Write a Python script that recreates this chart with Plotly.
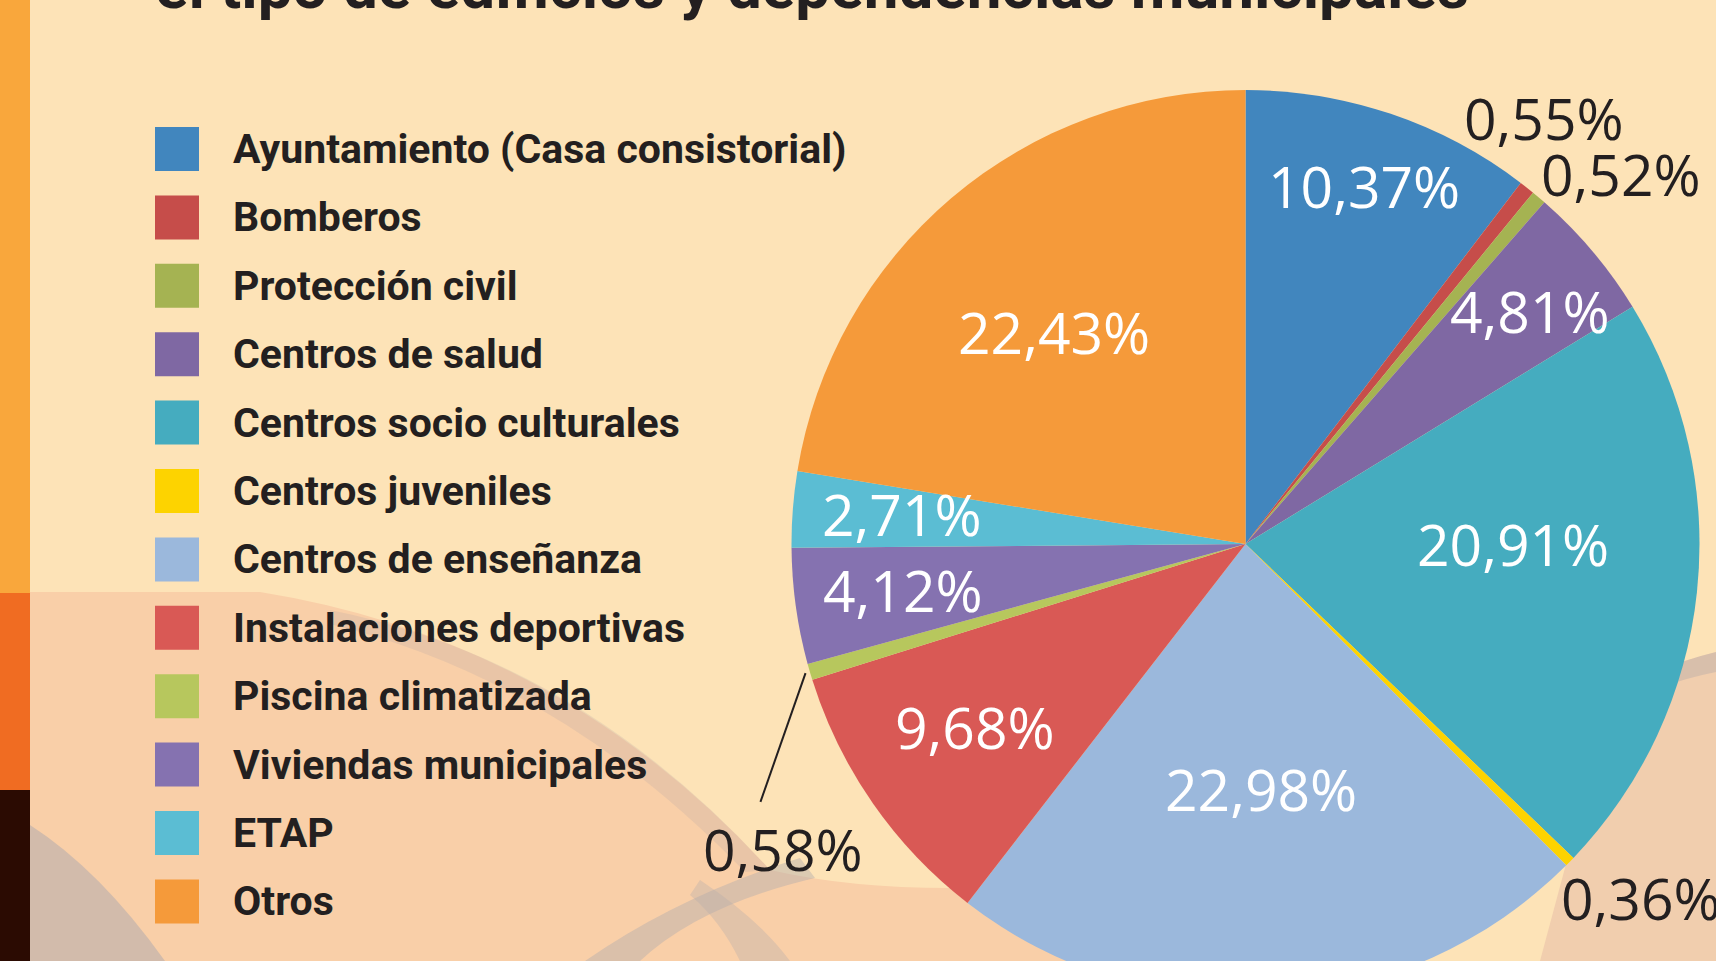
import math
import plotly.graph_objects as go

# ---------------- data ----------------
categories = [
    "Ayuntamiento (Casa consistorial)",
    "Bomberos",
    "Protección civil",
    "Centros de salud",
    "Centros socio culturales",
    "Centros juveniles",
    "Centros de enseñanza",
    "Instalaciones deportivas",
    "Piscina climatizada",
    "Viviendas municipales",
    "ETAP",
    "Otros",
]
shares = [10.37, 0.55, 0.52, 4.81, 20.91, 0.36, 22.98, 9.68, 0.58, 4.12, 2.71, 22.43]
title_text = "el tipo de edificios y dependencias municipales"

# ---------------- styles ----------------
colors = ["#4186BE", "#C64D4A", "#A5B352", "#7F68A3", "#45ACBF", "#FDD300",
          "#9BB8DC", "#D95955", "#B7C75D", "#8572B0", "#5BBDD3", "#F59A3A"]
# label placement (radius as fraction of pie radius, angular shift in degrees)
label_radius = [0.83, 1.145, 1.16, 0.81, 0.59, 1.17, 0.54, 0.72, 1.22, 0.76, 0.76, 0.63]
label_shift = [-0.4, -3.3, 5.2, 0.9, -6.1, -2.6, 0.0, 0.8, -17.0, 0.3, 0.6, -1.7]
label_inside = [True, False, False, True, True, False, True, True, False, True, True, True]
leader_for = [8]  # slices that get a leader line

W, H = 1716, 1000
CX, CY, R = 1245.5, 544.0, 454.0
BG = "#FDE3B7"
DARK = "#231F20"
LEGEND_FONT = "Roboto, Liberation Sans, sans-serif"
LABEL_FONT = "Open Sans, Noto Sans, sans-serif"


def px2paper(px, py):
    return px / W, 1 - py / H


def pxpath(segments):
    out = []
    for cmd, pts in segments:
        s = cmd
        for (x, y) in pts:
            a, b = px2paper(x, y)
            s += f" {a:.5f},{b:.5f}"
        out.append(s)
    return " ".join(out) + " Z"


def fmt(v):
    return f"{v:.2f}".replace(".", ",") + "%"


fig = go.Figure()
x0, y0 = px2paper(CX - R, CY + R)
x1, y1 = px2paper(CX + R, CY - R)
fig.add_trace(go.Pie(
    labels=categories,
    values=shares,
    sort=False,
    direction="clockwise",
    rotation=0,
    marker=dict(colors=colors, line=dict(width=0)),
    textinfo="none",
    hoverinfo="label+percent",
    showlegend=False,
    domain=dict(x=[x0, x1], y=[y0, y1]),
))

shapes = []
annotations = []


def bg_shape(segments, color, opacity=1.0):
    shapes.append(dict(type="path", xref="paper", yref="paper", layer="below",
                       path=pxpath(segments), fillcolor=color,
                       line=dict(width=0), opacity=opacity))


# ---------- background decorations ----------
# pink wave on the lower left
bg_shape([("M", [(30, 592)]), ("L", [(260, 592)]), ("Q", [(560, 640), (770, 870)]),
          ("Q", [(900, 900), (1100, 880)]), ("L", [(1100, 961)]), ("L", [(30, 961)])],
         "#F9CFA8")
# soft grey shading along its edge
bg_shape([("M", [(330, 610)]), ("Q", [(580, 660), (770, 870)]), ("L", [(745, 872)]),
          ("Q", [(560, 680), (330, 624)])], "#A9A2A6", 0.2)
# grey band lower left corner
bg_shape([("M", [(30, 825)]), ("Q", [(100, 870), (165, 961)]), ("L", [(30, 961)])],
         "#ACA8AE", 0.5)
# grey bands bottom middle
bg_shape([("M", [(585, 961)]), ("Q", [(680, 895), (800, 858)]), ("L", [(815, 878)]),
          ("Q", [(700, 905), (640, 961)])], "#B4ACAC", 0.45)
bg_shape([("M", [(700, 880)]), ("Q", [(760, 920), (790, 961)]), ("L", [(740, 961)]),
          ("Q", [(720, 920), (690, 895)])], "#B4ACAC", 0.35)
# right-hand wave
bg_shape([("M", [(1716, 652)]), ("Q", [(1650, 668), (1610, 700)]), ("L", [(1540, 961)]),
          ("L", [(1716, 961)])], "#F1CEAE")
bg_shape([("M", [(1716, 652)]), ("Q", [(1650, 668), (1610, 700)]), ("L", [(1612, 712)]),
          ("Q", [(1655, 684), (1716, 672)])], "#A9A2A6", 0.35)
# left strip
shapes.append(dict(type="rect", xref="paper", yref="paper", layer="below",
                   x0=0, x1=30 / W, y0=1 - 593 / H, y1=1,
                   fillcolor="#F9A73C", line=dict(width=0)))
shapes.append(dict(type="rect", xref="paper", yref="paper", layer="below",
                   x0=0, x1=30 / W, y0=1 - 790 / H, y1=1 - 593 / H,
                   fillcolor="#F06C22", line=dict(width=0)))
shapes.append(dict(type="rect", xref="paper", yref="paper", layer="below",
                   x0=0, x1=30 / W, y0=0, y1=1 - 790 / H,
                   fillcolor="#2B0B02", line=dict(width=0)))

# ---------- title (cropped at top) ----------
tx, ty = px2paper(153, 25)
annotations.append(dict(text=f"<b>{title_text}</b>", x=tx, y=ty, xref="paper", yref="paper",
                        xanchor="left", yanchor="bottom", showarrow=False,
                        font=dict(family=LEGEND_FONT, size=62, color=DARK)))

# ---------- legend ----------
for i, (cat, col) in enumerate(zip(categories, colors)):
    cy = 149 + i * 68.4
    sx0, sy0 = px2paper(155, cy + 22)
    sx1, sy1 = px2paper(199, cy - 22)
    shapes.append(dict(type="rect", xref="paper", yref="paper",
                       x0=sx0, x1=sx1, y0=sy0, y1=sy1, fillcolor=col, line=dict(width=0)))
    lx, ly = px2paper(231, cy)
    annotations.append(dict(text=f"<b>{cat}</b>", x=lx, y=ly, xref="paper", yref="paper",
                            xanchor="left", yanchor="middle", showarrow=False,
                            font=dict(family=LEGEND_FONT, size=41, color=DARK)))

# ---------- slice labels ----------
total = sum(shares)
cum = 0.0
for i, v in enumerate(shares):
    mid = (cum + v / 2) / total * 360.0
    cum += v
    ang = math.radians(mid + label_shift[i])
    r = label_radius[i] * R
    px = CX + r * math.sin(ang)
    py = CY - r * math.cos(ang)
    ax, ay = px2paper(px, py)
    annotations.append(dict(text=fmt(v), x=ax, y=ay, xref="paper", yref="paper",
                            xanchor="center", yanchor="middle", showarrow=False,
                            font=dict(family=LABEL_FONT, size=57,
                                      color="white" if label_inside[i] else DARK)))
    if i in leader_for:
        a0 = math.radians(mid)
        lx0, ly0 = px2paper(CX + 1.01 * R * math.sin(a0), CY - 1.01 * R * math.cos(a0))
        a1 = math.radians(242.0)
        lx1, ly1 = px2paper(CX + 1.21 * R * math.sin(a1), CY - 1.21 * R * math.cos(a1))
        shapes.append(dict(type="line", xref="paper", yref="paper",
                           x0=lx0, y0=ly0, x1=lx1, y1=ly1,
                           line=dict(color=DARK, width=2)))

fig.update_layout(
    width=W, height=H,
    margin=dict(l=0, r=0, t=0, b=0),
    paper_bgcolor=BG, plot_bgcolor=BG,
    shapes=shapes, annotations=annotations,
    showlegend=False,
)

fig.write_html(
    "out.html",
    config={"displayModeBar": False},
    post_script="document.body.style.margin='0';document.body.style.padding='0';"
                "document.documentElement.style.overflow='hidden';document.body.style.overflow='hidden';",
)
